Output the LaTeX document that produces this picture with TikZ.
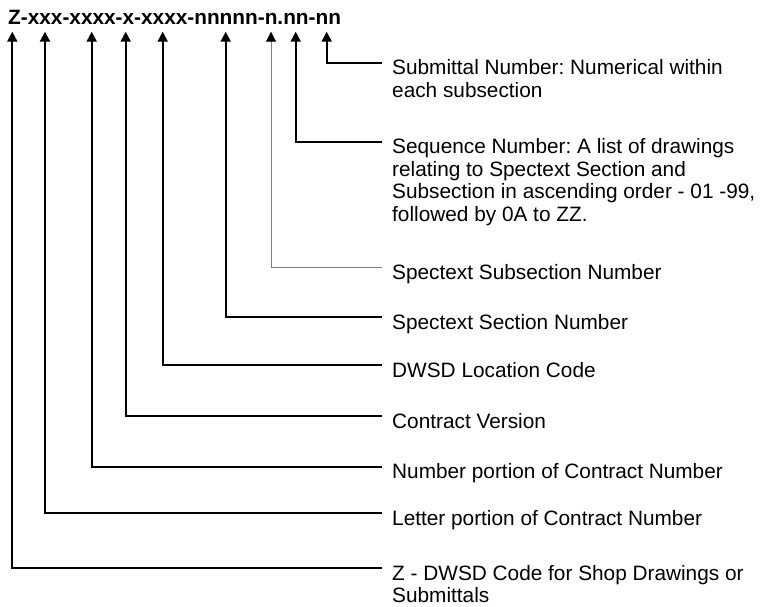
\documentclass[tikz,border=0pt]{standalone}
\usepackage{fontspec}
\setmainfont{Liberation Sans}
\usetikzlibrary{arrows.meta}
\frenchspacing

\begin{document}
\begin{tikzpicture}[x=1pt, y=-1pt, >={Triangle[length=10pt,width=10pt]},
    lbl/.style={anchor=north west, inner sep=0pt, align=left, font=\fontsize{20.8}{22.4}\selectfont},
    lead/.style={->, line width=2pt},
    leadthin/.style={line width=1pt, draw=gray, -{Triangle[length=10pt,width=10pt,color=black]}}]
    \useasboundingbox (0,0) rectangle (765,607);
    \node[anchor=base west, inner sep=0pt, font=\fontsize{20.8}{25}\selectfont\bfseries] (code) at (8,25) {Z-xxx-xxxx-x-xxxx-nnnnn-n.nn-nn};
    % label text sits a little above its leader line
    \foreach \n/\x/\y/\st/\lab in {
        sub/326.7/62.7/lead/{Submittal Number: Numerical within\\each subsection},
        seq/295.7/141.7/lead/{Sequence Number: A list of drawings\\relating to Spectext Section and\\Subsection in ascending order - 01 -99,\\followed by 0A to ZZ.},
        ssub/271/267/leadthin/{Spectext Subsection Number},
        ssec/225.7/317/lead/{Spectext Section Number},
        loc/162.7/365/lead/{DWSD Location Code},
        ver/125.7/416/lead/{Contract Version},
        num/91.7/466.7/lead/{Number portion of Contract Number},
        let/45/513/lead/{Letter portion of Contract Number},
        z/12.3/568/lead/{Z - DWSD Code for Shop Drawings or\\Submittals}} {
        \coordinate (tip\n) at (\x,31.7);
        \node[lbl] (lab\n) at (392,\y-3) {\lab};
        \draw[\st] ([shift={(-10.3,3)}]lab\n.north west) -| (tip\n);
    }
\end{tikzpicture}
\end{document}
